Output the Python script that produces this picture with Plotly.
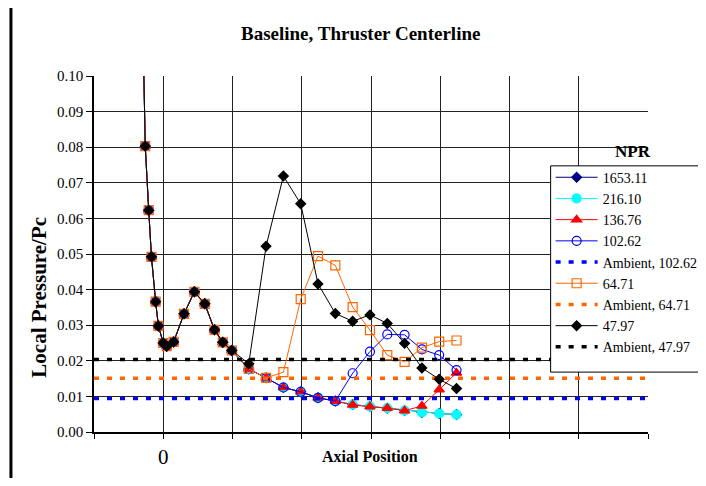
import plotly.graph_objects as go

# ---- data ----
axial_position = [-0.30, -0.26, -0.21, -0.17, -0.11, -0.07, 0.00, 0.05, 0.15, 0.30,
                  0.45, 0.60, 0.74, 0.86, 0.99, 1.235, 1.485, 1.735, 1.985, 2.235,
                  2.485, 2.735, 2.985, 3.235, 3.485, 3.735, 3.985, 4.235]

p_1653_11 = [0.120, 0.0803, 0.0623, 0.0492, 0.0366, 0.0298, 0.0250, 0.0241, 0.0253, 0.0332,
             0.0394, 0.0360, 0.0287, 0.0252, 0.0229, 0.0177, 0.0152, 0.0125, 0.0113, 0.0096,
             0.0087, 0.0077, 0.0072, 0.0067, 0.0060, 0.0055, 0.0052, 0.0049]
p_216_10 = [0.120, 0.0803, 0.0623, 0.0492, 0.0366, 0.0298, 0.0250, 0.0241, 0.0253, 0.0332,
            0.0394, 0.0360, 0.0287, 0.0252, 0.0229, 0.0177, 0.0152, 0.0125, 0.0113, 0.0096,
            0.0087, 0.0077, 0.0072, 0.0067, 0.0060, 0.0055, 0.0052, 0.0049]
p_136_76 = [0.120, 0.0803, 0.0623, 0.0492, 0.0366, 0.0298, 0.0250, 0.0241, 0.0253, 0.0332,
            0.0394, 0.0360, 0.0287, 0.0252, 0.0229, 0.0177, 0.0152, 0.0125, 0.0113, 0.0096,
            0.0087, 0.0076, 0.0071, 0.0067, 0.0060, 0.0073, 0.0119, 0.0166]
p_102_62 = [0.120, 0.0803, 0.0623, 0.0492, 0.0366, 0.0298, 0.0250, 0.0241, 0.0253, 0.0332,
            0.0394, 0.0360, 0.0287, 0.0252, 0.0229, 0.0177, 0.0152, 0.0125, 0.0113, 0.0096,
            0.0087, 0.0165, 0.0226, 0.0274, 0.0273, 0.0232, 0.0216, 0.0174]
p_64_71 = [0.120, 0.0803, 0.0623, 0.0492, 0.0366, 0.0298, 0.0250, 0.0241, 0.0253, 0.0332,
           0.0394, 0.0360, 0.0287, 0.0252, 0.0229, 0.0177, 0.0152, 0.0168, 0.0373, 0.0494,
           0.0468, 0.0351, 0.0286, 0.0216, 0.0197, 0.0237, 0.0254, 0.0257]
p_47_97 = [0.120, 0.0803, 0.0623, 0.0492, 0.0366, 0.0298, 0.0250, 0.0241, 0.0253, 0.0332,
           0.0394, 0.0360, 0.0287, 0.0252, 0.0229, 0.0192, 0.0522, 0.0719, 0.0641, 0.0416,
           0.0333, 0.0311, 0.0329, 0.0305, 0.0249, 0.0180, 0.0148, 0.0122]

ambient_102_62 = 0.0094
ambient_64_71 = 0.0151
ambient_47_97 = 0.0204

x_range = [-1, 7]
x_tick_vals = [-1, 0, 1, 2, 3, 4, 5, 6, 7]
x_tick_text = ["", "0", "", "", "", "", "", "", ""]
y_tick_vals = [0.00, 0.01, 0.02, 0.03, 0.04, 0.05, 0.06, 0.07, 0.08, 0.09, 0.10]

# ---- layout helpers (reference page pixel -> paper) ----
OFF = 8                          # html body margin on every side
W, H = 706 - 2 * OFF, 486 - 2 * OFF   # figure fits the window without scrolling
L, R, T, B = 94, 647.6, 75.7, 432.3   # plot area in reference page pixels


def px(xp):
    return (xp - L) / (R - L)


def py(yp):
    return (B - yp) / (B - T)


FONT = "Liberation Serif, Times New Roman, serif"

fig = go.Figure()


def add_series(name, y, color, symbol, size):
    fig.add_trace(go.Scatter(
        x=axial_position, y=y, name=name, legendgroup=name, mode="lines+markers",
        line=dict(color=color, width=1),
        marker=dict(symbol=symbol, size=size, color=color,
                    line=dict(color=color, width=1.2)),
    ))


def add_ambient(name, value, color):
    fig.add_trace(go.Scatter(
        x=x_range, y=[value, value], name=name, legendgroup=name, mode="lines",
        line=dict(color=color, width=3.5, dash="5px,8px"),
    ))


add_series("1653.11", p_1653_11, "#000080", "diamond", 7.5)
add_series("216.10", p_216_10, "#00FFFF", "circle", 9)
add_series("136.76", p_136_76, "#FF0000", "triangle-up", 9)
add_series("102.62", p_102_62, "#0000FF", "circle-open", 9)
add_ambient("Ambient, 102.62", ambient_102_62, "#0000FF")
add_series("64.71", p_64_71, "#FF6600", "square-open", 9)
add_ambient("Ambient, 64.71", ambient_64_71, "#FF6600")
add_series("47.97", p_47_97, "#000000", "diamond", 7.5)
add_ambient("Ambient, 47.97", ambient_47_97, "#000000")


def label(text, x, y, size, angle=0):
    return dict(text=text, xref="paper", yref="paper", x=px(x), y=py(y),
                xanchor="center", yanchor="middle", showarrow=False, textangle=angle,
                font=dict(family=FONT, size=size, color="black"))


fig.update_layout(
    width=W, height=H,
    margin=dict(l=L - OFF, r=W - (R - OFF), t=T - OFF, b=H - (B - OFF), autoexpand=False),
    paper_bgcolor="white", plot_bgcolor="white",
    font=dict(family=FONT, color="black", size=15),
    showlegend=True,
    legend=dict(
        x=px(550.3), y=py(161.5), xanchor="left", yanchor="top",
        bgcolor="rgba(0,0,0,0)", borderwidth=0,
        font=dict(family=FONT, size=14, color="black"),
        itemwidth=42, tracegroupgap=2.2, traceorder="normal",
    ),
    xaxis=dict(
        range=x_range, tickmode="array", tickvals=x_tick_vals, ticktext=x_tick_text,
        showgrid=True, gridcolor="#222222", gridwidth=1,
        showline=True, linecolor="black", linewidth=1.5,
        ticks="outside", ticklen=5, tickcolor="black",
        tickfont=dict(family=FONT, size=21, color="black"),
        zeroline=False, fixedrange=True,
    ),
    yaxis=dict(
        range=[0, 0.10], tickmode="array", tickvals=y_tick_vals, tickformat=".2f",
        showgrid=True, gridcolor="#222222", gridwidth=1,
        showline=True, linecolor="black", linewidth=1.5,
        ticks="outside", ticklen=6, tickcolor="black",
        tickfont=dict(family=FONT, size=15, color="black"),
        zeroline=False, fixedrange=True,
    ),
    annotations=[
        label("<b>Baseline, Thruster Centerline</b>", 360.5, 32.7, 19),
        label("<b>Local Pressure/Pc</b>", 39.3, 297.5, 21, angle=-90),
        label("<b>Axial Position</b>", 370, 457, 16),
        label("<b>NPR</b>", 633, 151, 17),
    ],
    shapes=[
        # legend box
        dict(type="rect", xref="paper", yref="paper",
             x0=px(550.3), x1=px(760), y0=py(372.3), y1=py(165.7),
             line=dict(color="black", width=1), fillcolor="white", layer="above"),
        # chart-area frame (left edge)
        dict(type="line", xref="paper", yref="paper",
             x0=px(11), x1=px(11), y0=py(-20), y1=py(500),
             line=dict(color="black", width=3), layer="above"),
    ],
)

fig.write_html("out.html")
